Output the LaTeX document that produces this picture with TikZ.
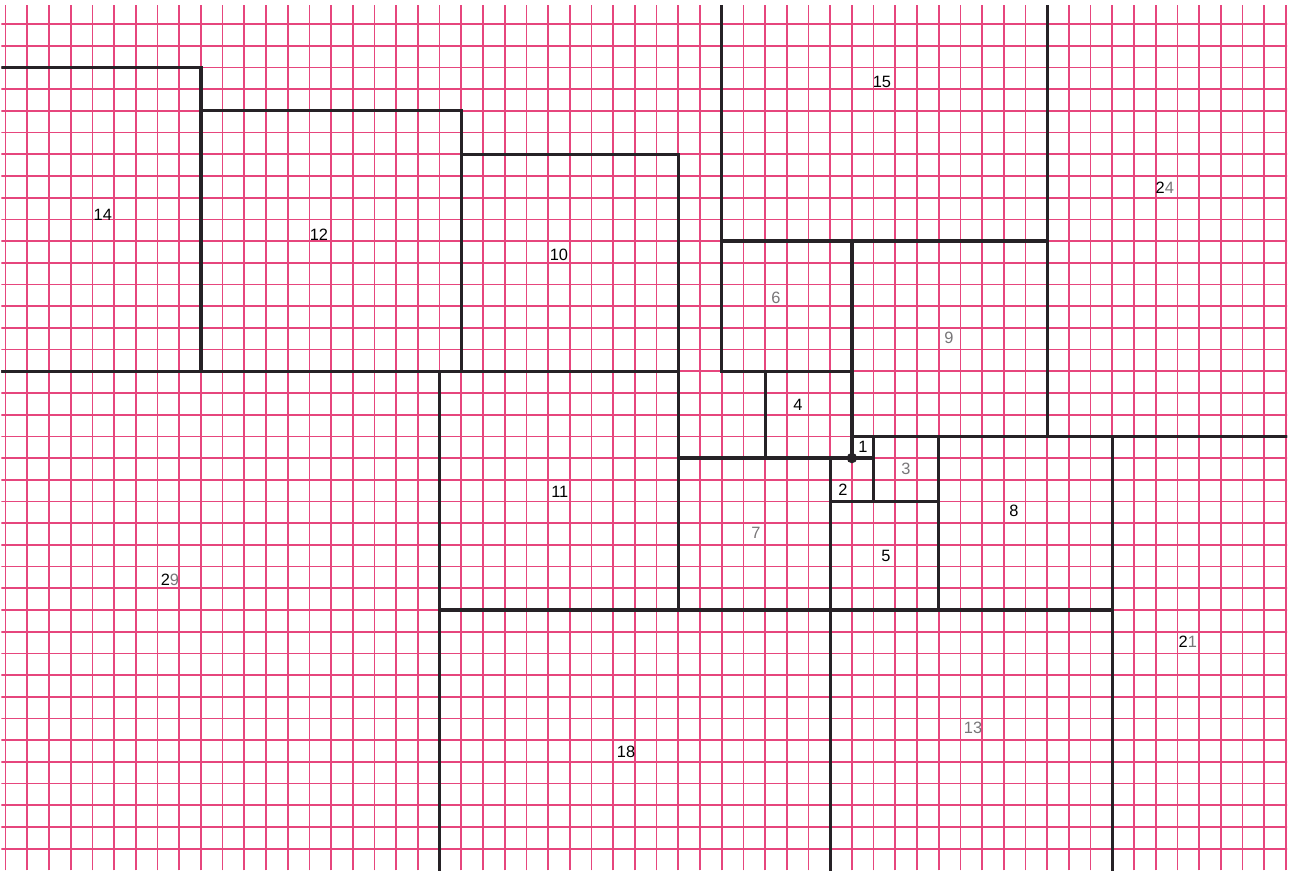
\documentclass[tikz,border=0pt]{standalone}
\usepackage{fontspec}
\setmainfont{Liberation Sans}
\definecolor{gridpink}{RGB}{230,70,125}
\definecolor{inkline}{RGB}{38,34,38}
\definecolor{lightink}{RGB}{120,118,120}
\tikzset{
  sq/.style={draw=inkline,line width=4.2pt,line join=miter},
  gline/.style={draw=gridpink,line width=2.2pt},
  lab/.style={font=\fontsize{21.5}{21.5}\selectfont,text=black,inner sep=0pt},
  glab/.style={lab,text=lightink},
}
\begin{document}
\begin{tikzpicture}[x=1cm,y=1cm]
\useasboundingbox (-39.26,-18.99) rectangle (20.28,21.11);
\fill[white] (-39.26,-18.99) rectangle (20.28,21.11);
\begin{scope}
\clip (-39.2,-18.99) rectangle (20.05,20.85);
\foreach \i in {-39,...,20} \draw[gline] (\i,-19) -- (\i,21);
\foreach \j in {-18,...,20} \draw[gline] (-40,\j) -- (21,\j);
% squares (side = label)
\draw[sq] (0,0) rectangle (1,1);
\draw[sq] (-1,-2) rectangle (1,0);
\draw[sq] (1,-2) rectangle (4,1);
\draw[sq] (-4,0) rectangle (0,4);
\draw[sq] (-1,-7) rectangle (4,-2);
\draw[sq] (-6,4) rectangle (0,10);
\draw[sq] (-8,-7) rectangle (-1,0);
\draw[sq] (4,-7) rectangle (12,1);
\draw[sq] (0,1) rectangle (9,10);
\draw[sq] (-18,4) rectangle (-8,14);
\draw[sq] (-19,-7) rectangle (-8,4);
\draw[sq] (-30,4) rectangle (-18,16);
\draw[sq] (-1,-20) rectangle (12,-7);
\draw[sq] (-44,4) rectangle (-30,18);
\draw[sq] (-6,10) rectangle (9,25);
\draw[sq] (-19,-25) rectangle (-1,-7);
\draw[sq] (12,-20) rectangle (33,1);
\draw[sq] (9,1) rectangle (33,25);
\draw[sq] (-48,-25) rectangle (-19,4);
\end{scope}
\fill[inkline] (0,0) circle (0.24);
% labels
\node[lab]  (l14) at (-34.52,11.20) {14};
\node[lab]  (l12) at (-24.56,10.28) {12};
\node[lab]  (l10) at (-13.50,9.35) {10};
\node[lab]  (l15) at (1.38,17.33) {15};
\node[lab]  (l24) at (14.42,12.44) {2\textcolor{lightink}{4}};
\node[glab] (l6)  at (-3.50,7.37) {6};
\node[glab] (l9)  at (4.47,5.53) {9};
\node[lab]  (l4)  at (-2.49,2.44) {4};
\node[lab]  (l1)  at (0.51,0.51) {1};
\node[glab] (l3)  at (2.49,-0.51) {3};
\node[lab]  (l2)  at (-0.41,-1.47) {2};
\node[lab]  (l8)  at (7.47,-2.44) {8};
\node[lab]  (l11) at (-13.46,-1.57) {11};
\node[glab] (l7)  at (-4.42,-3.46) {7};
\node[lab]  (l5)  at (1.57,-4.52) {5};
\node[lab]  (l29) at (-31.43,-5.62) {2\textcolor{lightink}{9}};
\node[lab]  (l21) at (15.48,-8.48) {2\textcolor{lightink}{1}};
\node[glab] (l13) at (5.58,-12.44) {13};
\node[lab]  (l18) at (-10.41,-13.55) {18};
\end{tikzpicture}
\end{document}
